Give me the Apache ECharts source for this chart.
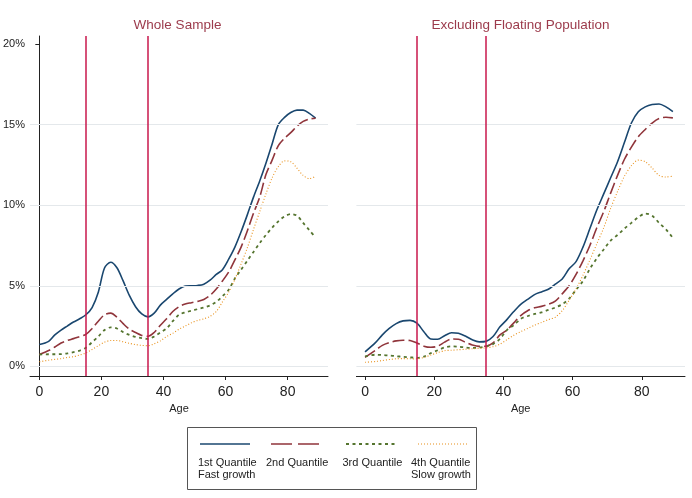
<!DOCTYPE html>
<html>
<head>
<meta charset="utf-8">
<title>Quantile growth by age</title>
<script src="https://cdn.jsdelivr.net/npm/echarts@6/dist/echarts.min.js"></script>
<style>html,body{margin:0;padding:0;background:#fff;}</style>
</head>
<body>
<div id="main" style="width:692px;height:498px;"></div>
<script>
// ages shared by every curve
var ages = [0,3,5,7,9,11,13,15,17,19,21,23,25,27,29,31,33,35,37,39,41,43,45,47,49,51,53,55,57,59,61,63,65,67,69,71,73,75,77,79,81,83,85,87,89];

// Whole Sample (%)
var wholeQ1 = [1.35,1.55,1.95,2.25,2.5,2.75,2.95,3.2,3.65,4.6,6.1,6.46,6.12,5.3,4.4,3.7,3.25,3.07,3.3,3.8,4.15,4.5,4.8,4.98,5.0,5.02,5.1,5.35,5.7,6.0,6.65,7.4,8.35,9.4,10.5,11.5,12.6,13.8,15.0,15.45,15.75,15.9,15.9,15.7,15.4];
var wholeQ2 = [0.73,0.98,1.2,1.45,1.6,1.72,1.85,1.98,2.35,2.8,3.2,3.3,3.05,2.65,2.3,2.1,1.92,1.86,2.1,2.55,2.95,3.4,3.7,3.87,3.95,4.03,4.15,4.4,4.8,5.3,5.85,6.6,7.4,8.4,9.5,10.5,11.9,12.8,13.7,14.15,14.5,14.9,15.2,15.35,15.4];
var wholeQ3 = [0.73,0.75,0.75,0.76,0.8,0.88,0.98,1.15,1.5,1.85,2.25,2.42,2.35,2.12,1.95,1.83,1.75,1.7,1.85,2.1,2.35,2.8,3.2,3.35,3.45,3.55,3.65,3.78,4.0,4.35,4.75,5.45,6.0,6.55,7.1,7.65,8.15,8.6,9.0,9.3,9.45,9.35,8.9,8.45,8.0];
var wholeQ4 = [0.28,0.38,0.43,0.48,0.55,0.6,0.7,0.83,1.05,1.28,1.5,1.6,1.6,1.52,1.43,1.35,1.3,1.28,1.4,1.58,1.85,2.05,2.3,2.5,2.7,2.85,2.95,3.1,3.4,4.0,4.6,5.4,6.35,7.35,8.5,9.6,10.7,11.7,12.4,12.75,12.7,12.3,11.85,11.65,11.8];

// Excluding Floating Population (%)
var exclQ1 = [0.9,1.47,1.95,2.35,2.65,2.82,2.85,2.68,2.15,1.7,1.68,1.9,2.08,2.05,1.88,1.65,1.52,1.55,1.85,2.45,2.9,3.4,3.85,4.15,4.45,4.62,4.78,5.1,5.42,6.05,6.5,7.4,8.55,9.7,10.7,11.7,12.7,13.9,15.1,15.8,16.1,16.25,16.28,16.1,15.8];
var exclQ2 = [0.55,1.0,1.3,1.47,1.58,1.62,1.6,1.45,1.25,1.18,1.25,1.5,1.7,1.68,1.5,1.33,1.24,1.25,1.45,1.95,2.25,2.7,3.15,3.45,3.63,3.72,3.85,4.05,4.5,5.0,5.7,6.55,7.5,8.6,9.6,10.75,11.85,12.85,13.6,14.25,14.7,15.1,15.38,15.46,15.42];
var exclQ3 = [0.62,0.72,0.7,0.67,0.63,0.59,0.56,0.53,0.6,0.82,1.0,1.17,1.24,1.22,1.17,1.14,1.17,1.24,1.38,1.7,2.25,2.55,2.95,3.12,3.25,3.35,3.5,3.65,3.85,4.2,4.75,5.3,6.05,6.7,7.25,7.8,8.15,8.55,8.9,9.25,9.48,9.35,8.9,8.5,7.97];
var exclQ4 = [0.25,0.3,0.36,0.42,0.47,0.48,0.47,0.46,0.55,0.7,0.85,0.97,1.0,1.03,1.06,1.09,1.12,1.15,1.22,1.38,1.65,1.93,2.15,2.35,2.55,2.72,2.9,3.05,3.45,4.1,4.8,5.65,6.6,7.6,8.6,9.8,10.85,11.8,12.45,12.8,12.7,12.3,11.85,11.75,11.8];

var panelTitles = ['Whole Sample', 'Excluding Floating Population'];
var legendNames = ['1st Quantile\nFast growth', '2nd Quantile', '3rd Quantile', '4th Quantile\nSlow growth'];
var xTicks = [0, 20, 40, 60, 80];
var yTicks = [0, 5, 10, 15, 20];
var gridValues = [0, 5, 10, 15];
var ageCutoffs = [15, 35];

var font = '"Liberation Sans", Arial, Helvetica, sans-serif';
var colors = ['#1a476f', '#90353b', '#55752f', '#e8901a'];
var dashes = ['solid', [12, 4], [3, 3.5], [1, 2]];
var widths = [1.6, 1.6, 1.8, 1.1];

function pairs(vals) {
    return ages.map(function (a, i) { return [a, vals[i]]; });
}

var chart = echarts.init(document.getElementById('main'));

function xAxisFor(idx, min, max) {
    return {
        type: 'value', gridIndex: idx, min: min, max: max,
        name: 'Age', nameLocation: 'middle', nameGap: 23,
        nameTextStyle: {fontFamily: font, fontSize: 11, color: '#222'},
        axisLine: {show: true, onZero: false, lineStyle: {color: '#222', width: 1}},
        axisTick: {show: true, length: 4, customValues: xTicks, lineStyle: {color: '#222'}},
        axisLabel: {customValues: xTicks, fontFamily: font, fontSize: 14, color: '#222', margin: 9},
        splitLine: {show: false}
    };
}

function yAxisFor(idx, showAxis) {
    return {
        type: 'value', gridIndex: idx, min: -0.6, max: 20.5,
        axisLine: {show: showAxis, lineStyle: {color: '#222', width: 1}},
        axisTick: {show: showAxis, length: 4, customValues: yTicks, lineStyle: {color: '#222'}},
        axisLabel: {show: showAxis, customValues: yTicks, formatter: '{value}%',
            fontFamily: font, fontSize: 11, color: '#222', margin: 5, padding: [0, 0, 6, 0]},
        splitLine: {show: false}
    };
}

var series = [];
[[wholeQ1, wholeQ2, wholeQ3, wholeQ4], [exclQ1, exclQ2, exclQ3, exclQ4]].forEach(function (panel, p) {
    // light horizontal gridlines
    series.push({
        type: 'line', xAxisIndex: p, yAxisIndex: p, data: [], z: 1, silent: true,
        markLine: {
            silent: true, symbol: 'none', animation: false, label: {show: false},
            lineStyle: {color: '#e4e8eb', width: 1, type: 'solid'},
            data: gridValues.map(function (v) { return {yAxis: v}; })
        }
    });
    // age cutoffs
    series.push({
        type: 'line', xAxisIndex: p, yAxisIndex: p, data: [], z: 2, silent: true,
        markLine: {
            silent: true, symbol: 'none', animation: false, label: {show: false},
            lineStyle: {color: '#c8174d', width: 1.5, type: 'solid'},
            data: ageCutoffs.map(function (v) { return {xAxis: v}; })
        }
    });
    panel.forEach(function (vals, k) {
        series.push({
            name: legendNames[k], type: 'line', xAxisIndex: p, yAxisIndex: p, z: 3,
            data: pairs(vals), showSymbol: false, smooth: 0.3, animation: false,
            lineStyle: {color: colors[k], width: widths[k], type: dashes[k]}
        });
    });
});

// legend drawn below the panels, text under each line sample
var legendLineCenters = [225, 296, 371, 443];
var legendTextLefts = [198, 266, 342.5, 411];
var graphics = [
    {type: 'text', x: 177.5, y: 25, style: {text: panelTitles[0], fill: '#9c3b4c', font: '13.5px ' + font, align: 'center', verticalAlign: 'middle'}},
    {type: 'text', x: 520.5, y: 25, style: {text: panelTitles[1], fill: '#9c3b4c', font: '13.5px ' + font, align: 'center', verticalAlign: 'middle'}},
    {type: 'rect', shape: {x: 187.5, y: 427.5, width: 289, height: 62}, style: {fill: '#fff', stroke: '#555', lineWidth: 1}}
];
legendLineCenters.forEach(function (cx, k) {
    graphics.push({
        type: 'line', shape: {x1: cx - 25, y1: 444, x2: cx + 25, y2: 444},
        style: {stroke: colors[k], lineWidth: widths[k], lineDash: k === 1 ? [21, 6] : (k === 0 ? null : dashes[k])}
    });
    graphics.push({
        type: 'text', x: legendTextLefts[k], y: 457,
        style: {text: legendNames[k], fill: '#222', font: '11px ' + font, align: 'left', verticalAlign: 'top', lineHeight: 12}
    });
});

chart.setOption({
    animation: false,
    grid: [
        {left: 29, top: 36, width: 299, height: 340},
        {left: 356.4, top: 36, width: 328.6, height: 340}
    ],
    xAxis: [xAxisFor(0, -3, 93), xAxisFor(1, -2.5, 92.5)],
    yAxis: [yAxisFor(0, true), yAxisFor(1, false)],
    series: series,
    graphic: graphics
});
</script>
</body>
</html>
